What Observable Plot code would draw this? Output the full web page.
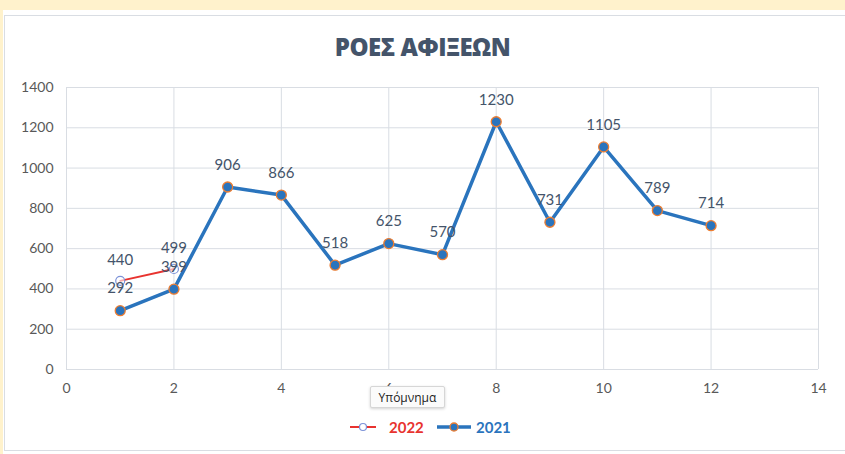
<!DOCTYPE html>
<html>
<head>
<meta charset="utf-8">
<script src="https://cdn.jsdelivr.net/npm/d3@7"></script>
<script src="https://cdn.jsdelivr.net/npm/@observablehq/plot@0.6"></script>
<style>
  html, body { margin: 0; padding: 0; background: #ffffff; }
  body { width: 845px; height: 454px; position: relative; overflow: hidden; font-family: Lato, "Open Sans", sans-serif; }
  #topband { position: absolute; left: 0; top: 0; width: 845px; height: 10px; background: #fff2cc; }
  #leftband { position: absolute; left: 0; top: 0; width: 3px; height: 454px; background: #fff2cc; }
  #box { position: absolute; left: 4px; top: 15px; width: 850px; height: 436px; border: 1px solid #d9dde3; box-sizing: border-box; }
  #title { position: absolute; left: 0; width: 845px; top: 30px; text-align: center; font-family: "Open Sans", sans-serif; font-weight: 800; font-size: 24px; color: #44546a; letter-spacing: -0.5px; }
  #chart { position: absolute; left: 0; top: 0; }
  #legend { position: absolute; left: 0; top: 417px; width: 845px; height: 20px; }
  .lg { position: absolute; top: 0; font-weight: 700; font-size: 15px; line-height: 20px; }
  #tip { position: absolute; left: 370px; top: 386px; width: 75px; height: 22px; background: #fbfbfb; border: 1px solid #d6d6d6; border-radius: 2px; box-shadow: 0 1px 3px rgba(0,0,0,0.18); font-family: "Open Sans", sans-serif; font-size: 12px; color: #222; text-align: center; line-height: 22px; box-sizing: border-box; }
</style>
</head>
<body>
<div id="topband"></div>
<div id="leftband"></div>
<div id="box"></div>
<div id="chart"></div>
<div id="title">ΡΟΕΣ ΑΦΙΞΕΩΝ</div>
<div id="legend"></div>
<div id="tip">Υπόμνημα</div>
<script>
const months2021 = [1, 2, 3, 4, 5, 6, 7, 8, 9, 10, 11, 12];
const values2021 = [292, 399, 906, 866, 518, 625, 570, 1230, 731, 1105, 789, 714];
const months2022 = [1, 2];
const values2022 = [440, 499];
const xTicks = [0, 2, 4, 6, 8, 10, 12, 14];
const yTicks = [0, 200, 400, 600, 800, 1000, 1200, 1400];
const seriesNames = ["2022", "2021"];

const d2021 = months2021.map((m, i) => ({x: m, y: values2021[i]}));
const d2022 = months2022.map((m, i) => ({x: m, y: values2022[i]}));

const blue = "#2a74bd";
const orange = "#ed7d31";
const red = "#e8332f";
const labelColor = "#44546a";
const tickColor = "#595959";

const chart = Plot.plot({
  width: 845,
  height: 454,
  marginLeft: 66,
  marginRight: 27,
  marginTop: 87,
  marginBottom: 85,
  style: {fontFamily: "Lato, 'Open Sans', sans-serif", fontSize: "14px", background: "transparent"},
  x: {domain: [0, 14], label: null},
  y: {domain: [0, 1400], label: null},
  marks: [
    Plot.gridX(xTicks, {stroke: "#d9dde3", strokeOpacity: 1, strokeWidth: 1}),
    Plot.gridY(yTicks, {stroke: "#d9dde3", strokeOpacity: 1, strokeWidth: 1}),
    Plot.axisX(xTicks, {tickSize: 0, tickPadding: 14, fill: tickColor, fontSize: 14, label: null, tickFormat: d => String(d)}),
    Plot.axisY(yTicks, {tickSize: 0, tickPadding: 13, fill: tickColor, fontSize: 14, label: null, tickFormat: d => String(d)}),
    Plot.line(d2022, {x: "x", y: "y", stroke: red, strokeWidth: 2}),
    Plot.dot(d2022, {x: "x", y: "y", r: 4.5, fill: "white", fillOpacity: 0.6, stroke: "#7c92d8", strokeWidth: 1.2}),
    Plot.line(d2021, {x: "x", y: "y", stroke: blue, strokeWidth: 3.5}),
    Plot.dot(d2021, {x: "x", y: "y", r: 5, fill: blue, stroke: orange, strokeWidth: 1.3}),
    Plot.text(d2022, {x: "x", y: "y", text: d => String(d.y), dy: -21, fill: labelColor, fontSize: 15}),
    Plot.text(d2021, {x: "x", y: "y", text: d => String(d.y), dy: -22, fill: labelColor, fontSize: 15})
  ]
});
document.getElementById("chart").appendChild(chart);

// legend
const legend = document.getElementById("legend");
const lsvg = d3.select(legend).append("svg").attr("width", 845).attr("height", 20).style("position", "absolute").style("left", 0).style("top", 0);
lsvg.append("line").attr("x1", 350).attr("x2", 376).attr("y1", 10).attr("y2", 10).attr("stroke", red).attr("stroke-width", 2);
lsvg.append("circle").attr("cx", 363).attr("cy", 10).attr("r", 3.5).attr("fill", "white").attr("stroke", "#7c92d8").attr("stroke-width", 1.2);
lsvg.append("line").attr("x1", 437).attr("x2", 471).attr("y1", 10).attr("y2", 10).attr("stroke", blue).attr("stroke-width", 3.5);
lsvg.append("circle").attr("cx", 454).attr("cy", 10).attr("r", 4).attr("fill", blue).attr("stroke", orange).attr("stroke-width", 1.3);
const t1 = document.createElement("div");
t1.className = "lg"; t1.style.left = "389px"; t1.style.color = red; t1.textContent = seriesNames[0];
legend.appendChild(t1);
const t2 = document.createElement("div");
t2.className = "lg"; t2.style.left = "476px"; t2.style.color = blue; t2.textContent = seriesNames[1];
legend.appendChild(t2);
</script>
</body>
</html>
